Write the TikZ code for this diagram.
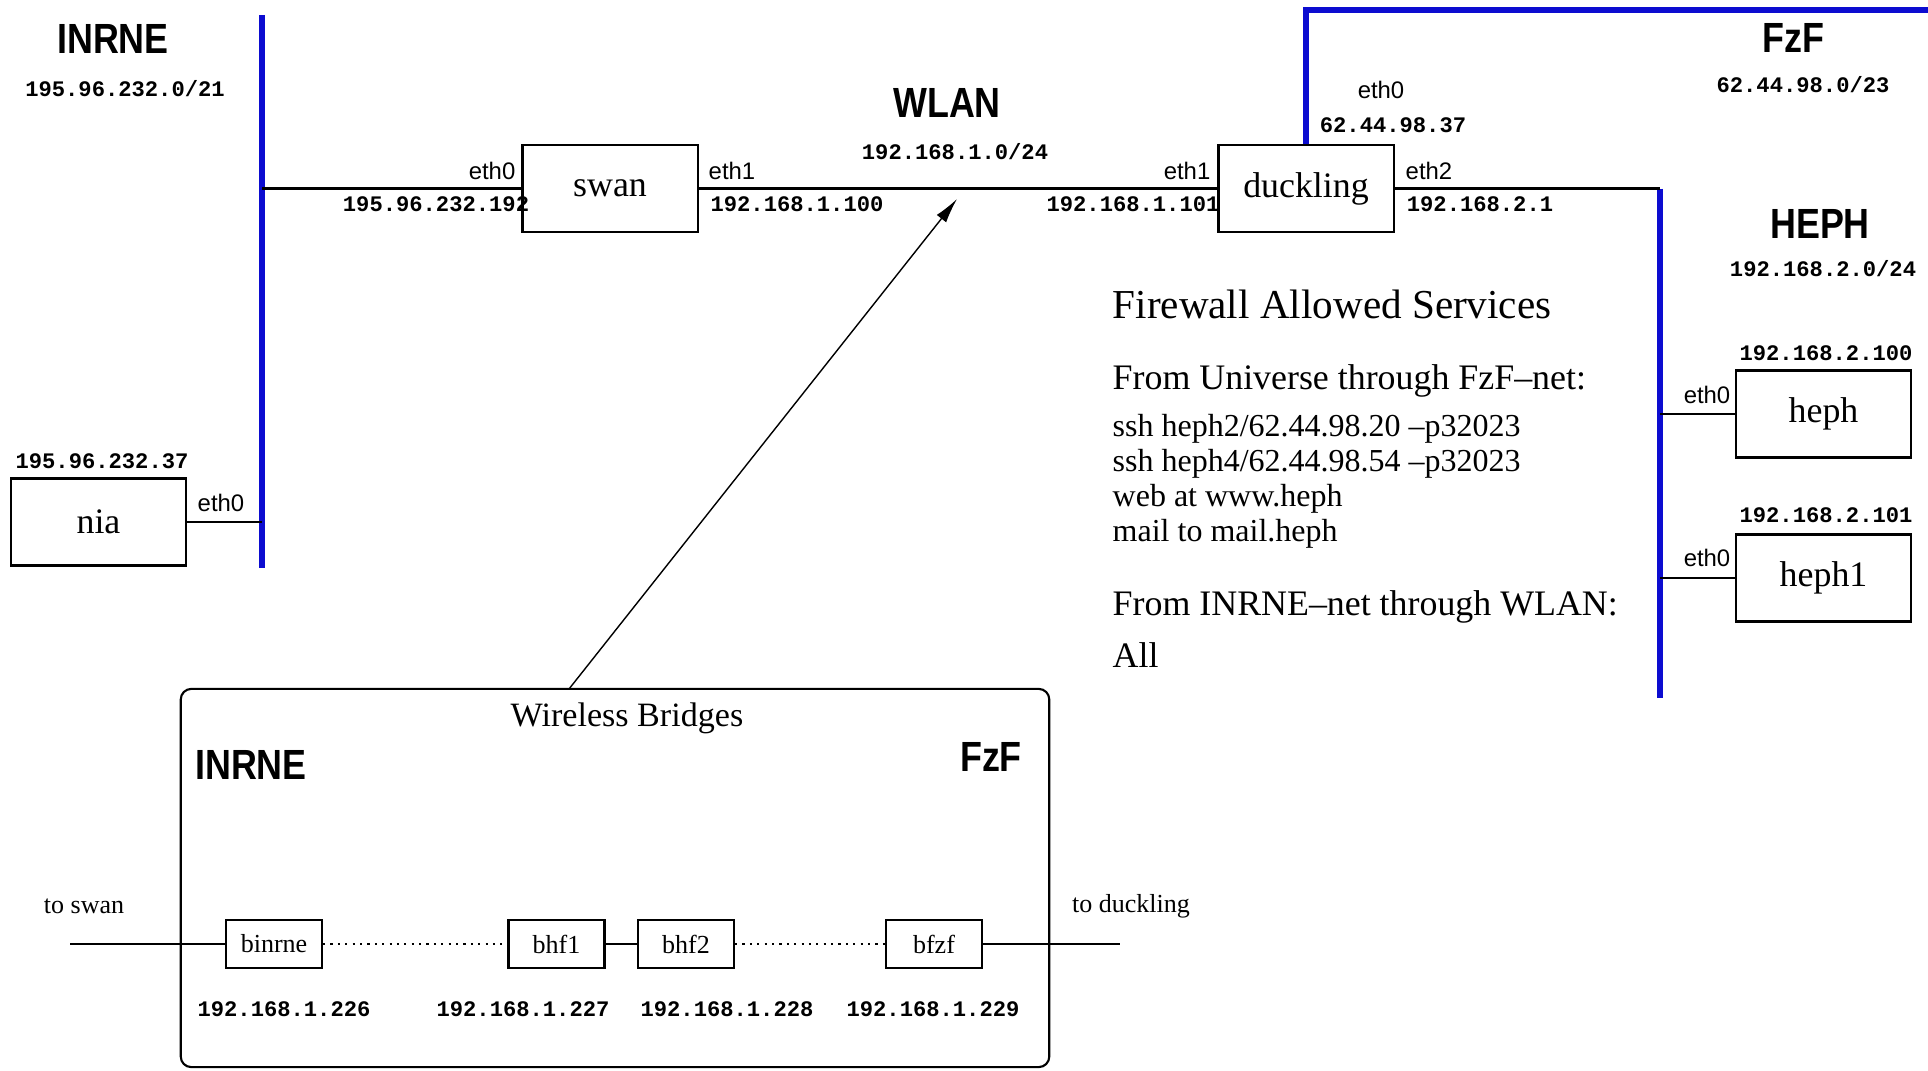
\documentclass[tikz,border=0pt]{standalone}
\usepackage{fontspec}
\setmainfont{Liberation Serif}
\newfontfamily\netfont{Liberation Mono}
\newfontfamily\ethfont{Liberation Sans}
\newfontfamily\zonefont[FakeStretch=0.85]{Liberation Sans Bold}
\usetikzlibrary{arrows.meta, positioning}
\definecolor{busblue}{HTML}{0C0CD0}

\begin{document}
\begin{tikzpicture}[
    x=0.01cm, y=-0.01cm,
    every node/.style={inner sep=0pt},
    host/.style={
        draw,
        line width=0.6pt,
        minimum width=1.75cm,
        minimum height=0.87cm,
        font=\fontsize{10.2}{12}\selectfont
    },
    bridge/.style={
        draw,
        line width=0.6pt,
        minimum width=0.96cm,
        minimum height=0.48cm,
        font=\fontsize{7.4}{9}\selectfont
    },
    zone/.style={font={\zonefont\fontsize{12}{14}\selectfont}},
    net/.style={font={\netfont\bfseries\fontsize{6.3}{8}\selectfont}},
    iface/.style={font={\ethfont\fontsize{6.8}{8}\selectfont}},
    rule/.style={anchor=west, font=\fontsize{9.1}{11}\selectfont},
    bus/.style={draw=busblue, line width=1.7pt},
    link/.style={line width=0.6pt},
    radio/.style={line width=0.6pt, dash pattern=on 0.6pt off 1.5pt},
    arrow/.style={line width=0.4pt, -{Latex[length=2.5mm, width=1.2mm]}}
]
\useasboundingbox (0,0) rectangle (1928,1070);

% hosts
\node[host] (swan) at (610,188.5) {swan};
\node[host] (duckling) at (1306,188.5) {duckling};
\node[host] (nia) at (98.5,522) {nia};
\node[host] (heph) at (1823.5,414) {heph};
\node[host] (heph1) at (1823.5,578) {heph1};

% networks
\coordinate (inrnetop) at (262,15);
\coordinate (inrnebot) at (262,568);
\coordinate (fzfend) at (1928,10);
\coordinate (hephtop) at (1660,188.5);
\coordinate (hephbot) at (1660,698);

\draw[bus] (inrnetop) -- (inrnebot);
\draw[bus] (duckling.north) |- (fzfend);
\draw[bus] (hephtop) -- (hephbot);

\draw[link] (swan.west) -- (swan.west -| inrnetop);
\draw[link] (swan) -- (duckling);
\draw[link] (duckling.east) -- (hephtop);
\draw[link] (nia.east) -- (nia.east -| inrnetop);
\draw[link] (heph.west) -- (heph.west -| hephtop);
\draw[link] (heph1.west) -- (heph1.west -| hephtop);

\node[zone] (inrnelabel) at (113,39) {INRNE};
\node[zone] (wlanlabel) at (947,103) {WLAN};
\node[zone] (fzflabel) at (1793,38) {FzF};
\node[zone] (hephlabel) at (1820,224) {HEPH};

\node[net] (inrnenet) at (125,89) {195.96.232.0/21};
\node[net] (wlannet) at (955,152) {192.168.1.0/24};
\node[net] (fzfnet) at (1803,85) {62.44.98.0/23};
\node[net] (hephnet) at (1823,269) {192.168.2.0/24};

% interfaces
\node[iface, anchor=east] (swaneth0) at (516,171) {eth0};
\node[iface, anchor=west] (swaneth1) at (708,171) {eth1};
\node[iface, anchor=east] (ducketh1) at (1211,171) {eth1};
\node[iface, anchor=west] (ducketh2) at (1405,171) {eth2};
\node[iface] (ducketh0) at (1381,90) {eth0};
\node[iface] (niaeth0) at (221,503) {eth0};
\node[iface] (hepheth0) at (1707,395) {eth0};
\node[iface] (heph1eth0) at (1707,558) {eth0};

\node[net] (swanip0) at (436,204) {195.96.232.192};
\node[net] (swanip1) at (797,204) {192.168.1.100};
\node[net] (duckip1) at (1133,204) {192.168.1.101};
\node[net] (duckip2) at (1480,204) {192.168.2.1};
\node[net] (duckip0) at (1393,125) {62.44.98.37};
\node[net] (niaip) at (102,461) {195.96.232.37};
\node[net] (hephip) at (1826,353) {192.168.2.100};
\node[net] (heph1ip) at (1826,515) {192.168.2.101};

% firewall notes
\node[rule, font=\fontsize{11.7}{14}\selectfont] (fwtitle) at (1112,304) {Firewall Allowed Services};
\node[rule, font=\fontsize{10.2}{12}\selectfont] (fwuniv) at (1112,381) {From Universe through FzF–net:};
\node[rule] (fwssh2) at (1112,429) {ssh heph2/62.44.98.20 –p32023};
\node[rule] (fwssh4) at (1112,464) {ssh heph4/62.44.98.54 –p32023};
\node[rule] (fwweb) at (1112,499) {web at www.heph};
\node[rule] (fwmail) at (1112,534) {mail to mail.heph};
\node[rule, font=\fontsize{10.2}{12}\selectfont] (fwinrne) at (1112,607) {From INRNE–net through WLAN:};
\node[rule, font=\fontsize{10.2}{12}\selectfont] (fwall) at (1112,655) {All};

% wireless bridges
\node[draw, line width=0.6pt, rounded corners=3pt, minimum width=8.68cm, minimum height=3.78cm] (bridges) at (615,878) {};
\node[font=\fontsize{9.7}{12}\selectfont] (bridgestitle) at (627,718) {Wireless Bridges};
\node[zone] (boxinrne) at (251,765) {INRNE};
\node[zone] (boxfzf) at (991,757) {FzF};

\node[bridge] (binrne) at (274,944) {binrne};
\node[bridge] (bhf1) at (556.5,944) {bhf1};
\node[bridge] (bhf2) at (686,944) {bhf2};
\node[bridge] (bfzf) at (934,944) {bfzf};

\coordinate (toswan) at (70,944);
\coordinate (toduck) at (1120,944);
\node[font=\fontsize{7.4}{9}\selectfont] (toswanlabel) at (84,906) {to swan};
\node[font=\fontsize{7.4}{9}\selectfont] (toducklabel) at (1131,906) {to duckling};

\draw[link] (toswan) -- (binrne);
\draw[radio] (binrne) -- (bhf1);
\draw[link] (bhf1) -- (bhf2);
\draw[radio] (bhf2) -- (bfzf);
\draw[link] (bfzf) -- (toduck);

\node[net] (binrneip) at (284,1009) {192.168.1.226};
\node[net] (bhf1ip) at (523,1009) {192.168.1.227};
\node[net] (bhf2ip) at (727,1009) {192.168.1.228};
\node[net] (bfzfip) at (933,1009) {192.168.1.229};

\coordinate (arrowfoot) at (569,689);
\coordinate (wlanpoint) at (957,199);
\draw[arrow] (arrowfoot) -- (wlanpoint);

\end{tikzpicture}
\end{document}
